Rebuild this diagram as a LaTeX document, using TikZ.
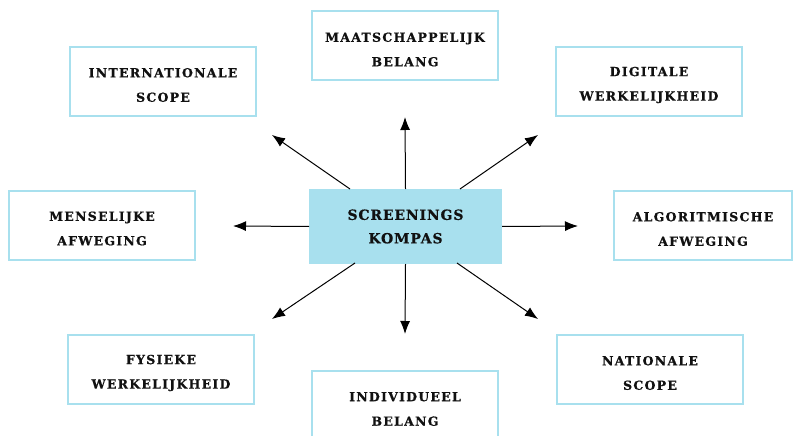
\documentclass[tikz,border=0pt]{standalone}
\usepackage{fontspec}
\setmainfont{DejaVu Serif}
\newfontfamily\boxfont[LetterSpace=10,FakeBold=0.6]{DejaVu Serif Bold}
\newfontfamily\centerfont[LetterSpace=6,FakeBold=0.6]{DejaVu Serif Bold}
\usetikzlibrary{arrows.meta}
\definecolor{boxblue}{HTML}{A8E0EE}
\definecolor{txt}{HTML}{111111}
\tikzset{
  x=1pt,y=-1pt,
  outertext/.style={align=center,font=\boxfont\fontsize{12.5}{24.5}\selectfont,text=txt,inner sep=0pt},
  outerbox/.style={draw=boxblue,line width=2pt,fill=white,minimum width=186pt,minimum height=69pt,inner sep=0pt},
  centerbox/.style={draw=boxblue,line width=1pt,fill=boxblue,minimum width=192pt,minimum height=74pt,
    align=center,font=\centerfont\fontsize{14}{23.5}\selectfont,text=txt,inner sep=0pt},
  arr/.style={line width=1pt,draw=black,-{Latex[length=13pt,width=10pt]}}
}
\begin{document}
\begin{tikzpicture}
\useasboundingbox (0,0) rectangle (793,436);
\clip (0,0) rectangle (793,436);
\node[centerbox] (c) at (405.5,226.5) {SCREENINGS\\KOMPAS};
\node[outerbox] (n) at (405,46) {};
\node[outerbox] (nw) at (163,81.5) {};
\node[outerbox] (ne) at (649,81.5) {};
\node[outerbox] (w) at (102,225) {};
\node[outerbox,minimum width=178pt] (e) at (703,225.5) {};
\node[outerbox] (sw) at (161,369.5) {};
\node[outerbox] (se) at (650,369.5) {};
\node[outerbox,minimum height=72pt] (s) at (405,407) {};
\node[outertext] (ntext) at ([yshift=-3.5pt]n.center) {MAATSCHAPPELIJK\\BELANG};
\node[outertext] (nwtext) at ([yshift=-3.5pt]nw.center) {INTERNATIONALE\\SCOPE};
\node[outertext] (netext) at ([yshift=-3.5pt]ne.center) {DIGITALE\\WERKELIJKHEID};
\node[outertext] (wtext) at ([yshift=-3.5pt]w.center) {MENSELIJKE\\AFWEGING};
\node[outertext] (etext) at ([yshift=-3.5pt]e.center) {ALGORITMISCHE\\AFWEGING};
\node[outertext] (swtext) at ([yshift=-3.5pt]sw.center) {FYSIEKE\\WERKELIJKHEID};
\node[outertext] (setext) at ([yshift=-3.5pt]se.center) {NATIONALE\\SCOPE};
\node[outertext] (stext) at (405,409) {INDIVIDUEEL\\BELANG};
% arrow tips
\coordinate (tn) at (405,117);
\coordinate (ts) at (405,334);
\coordinate (tw) at (233,226);
\coordinate (te) at (578,226);
\coordinate (tnw) at (272,135);
\coordinate (tne) at (538,135);
\coordinate (tsw) at (272,319);
\coordinate (tse) at (538,319);
% start points on the centre box
\coordinate (snw) at (350,189);
\coordinate (sne) at (460,189);
\coordinate (ssw) at (355,263);
\coordinate (sse) at (457,263);
\draw[arr] (c.north) -- (tn);
\draw[arr] (c.south) -- (ts);
\draw[arr] (c.west) -- (tw);
\draw[arr] (c.east) -- (te);
\draw[arr] (snw) -- (tnw);
\draw[arr] (sne) -- (tne);
\draw[arr] (ssw) -- (tsw);
\draw[arr] (sse) -- (tse);
\end{tikzpicture}
\end{document}
